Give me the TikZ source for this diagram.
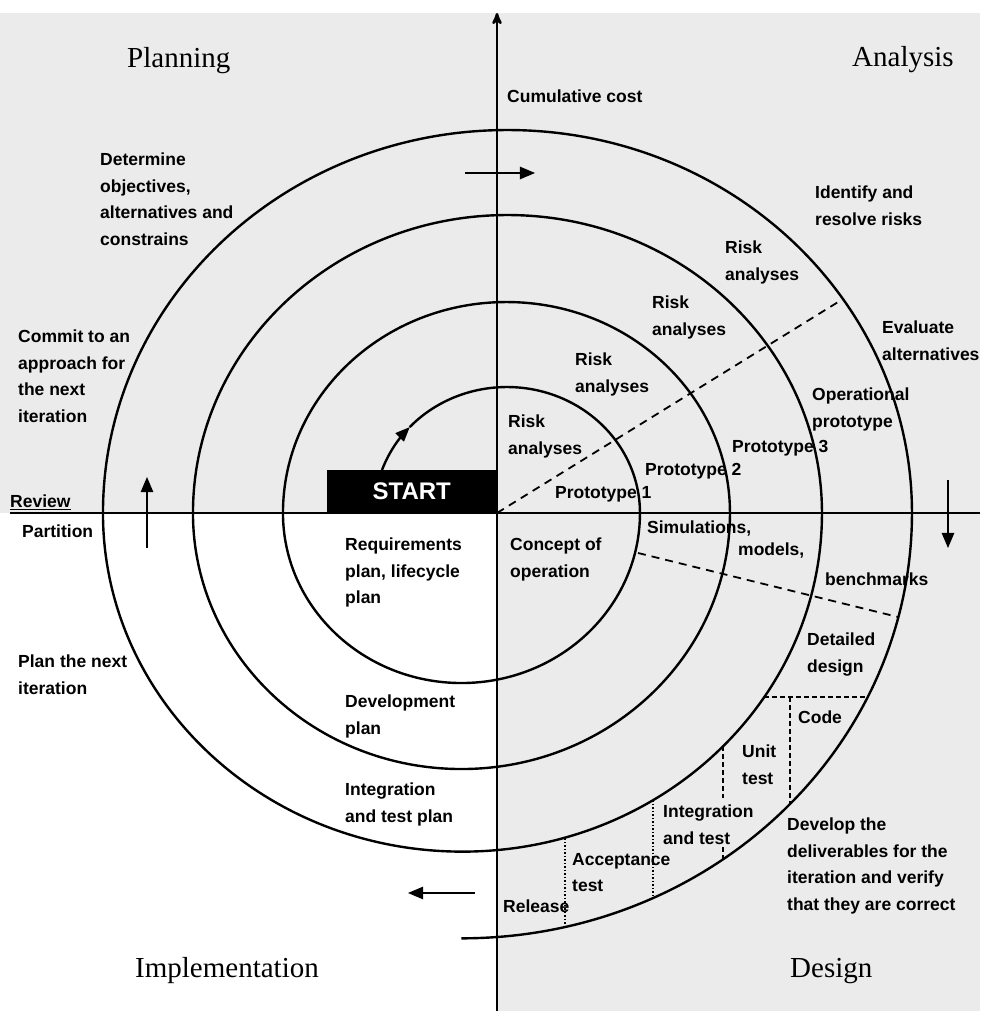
\documentclass[tikz,border=0pt]{standalone}
\usepackage{fontspec}
\setmainfont{Liberation Serif}
\setsansfont{Liberation Sans}
\usepackage{tikz}
\usetikzlibrary{arrows}
\tikzset{
  txt/.style={font=\sffamily\bfseries\fontsize{17.5}{26.5}\selectfont, align=left, anchor=north west, inner sep=0pt},
  phase/.style={font=\fontsize{29}{34}\selectfont, anchor=base west, inner sep=0pt},
  spiral/.style={black, line width=2.4pt},
  guide/.style={black, line width=1.8pt, dash pattern=on 8pt off 6pt},
  boxline/.style={black, line width=1.3pt, dash pattern=on 5pt off 3pt},
  dotline/.style={black, line width=1.3pt, dash pattern=on 1.5pt off 2pt},
  flow/.style={black, line width=2.6pt, ->, >=triangle 45}
}

\begin{document}
\begin{tikzpicture}[x=1pt,y=1pt]
\useasboundingbox (-497,-498) rectangle (483,513);
\fill[black!8] (-497,0) rectangle (483,500);
\fill[black!8] (0,-498) rectangle (483,0);

\draw[black, line width=2.6pt, ->, >=stealth'] (0,-498) -- (0,500);
\draw[black, line width=2.6pt] (-487,0) -- (483,0);

\node[fill=black, text=white, minimum width=170pt, minimum height=43pt, inner sep=0pt, anchor=south east,
  font=\sffamily\bfseries\fontsize{24}{28}\selectfont] (start) at (0,0) {START};

\draw[spiral, ->, >=triangle 45] (-115,43) arc[start angle=160, end angle=137, x radius=133pt, y radius=126pt];
\draw[spiral] (-87.3,85.9) arc[start angle=137, end angle=0, x radius=133pt, y radius=126pt]
  arc[start angle=0, end angle=-180, x radius=178.5pt, y radius=170pt]
  arc[start angle=180, end angle=0, x radius=223.5pt, y radius=211pt]
  arc[start angle=0, end angle=-180, x radius=268.5pt, y radius=256pt]
  arc[start angle=180, end angle=0, x radius=314.5pt, y radius=298pt]
  arc[start angle=0, end angle=-180, x radius=359.5pt, y radius=338.6pt]
  arc[start angle=180, end angle=0, x radius=404.5pt, y radius=383pt]
  arc[start angle=0, end angle=-90, x radius=450.5pt, y radius=425.3pt];

\draw[guide] (0,0) -- (346,214);
\draw[guide] (141,-40) -- (401,-104);
\draw[boxline] (267,-184) -- (371,-184);
\draw[boxline] (293,-184) -- (293,-291);
\draw[boxline] (226,-233) -- (226,-285);
\draw[boxline] (226,-334) -- (226,-346);
\draw[dotline] (156,-287) -- (156,-385);
\draw[dotline] (68,-325) -- (68,-414);

\draw[flow] (-32,340) -- (38,340);
\draw[flow] (451,33) -- (451,-35);
\draw[flow] (-22,-380) -- (-89,-380);
\draw[flow] (-350,-35) -- (-350,36);

\node[phase] (planning) at (-370,445) {Planning};
\node[phase] (analysis) at (355,446) {Analysis};
\node[phase] (implementation) at (-362,-464) {Implementation};
\node[phase] (design) at (293,-464) {Design};

\node[txt] (objectives) at (-397,360) {Determine\\objectives,\\alternatives and\\constrains};
\node[txt] (cost) at (10,423) {Cumulative cost};
\node[txt] (identify) at (318,327) {Identify and\\resolve risks};
\foreach \x/\y [count=\i] in {11/98,78/160,155/217,228/272}
  \node[txt] (risk\i) at (\x,\y) {Risk\\analyses};
\node[txt] (evaluate) at (385,192) {Evaluate\\alternatives};
\node[txt] (operational) at (315,125) {Operational\\prototype};
\node[txt] (proto3) at (235,73) {Prototype 3};
\node[txt] (proto2) at (148,50) {Prototype 2};
\node[txt] (proto1) at (58,27) {Prototype 1};
\node[txt] (simulations) at (150,-8) {Simulations,};
\node[txt] (models) at (241,-30) {models,};
\node[txt] (benchmarks) at (328,-60) {benchmarks};
\node[txt] (concept) at (13,-25) {Concept of\\operation};
\node[txt] (detailed) at (310,-120) {Detailed\\design};
\node[txt] (code) at (301,-198) {Code};
\node[txt] (unit) at (245,-232) {Unit\\test};
\node[txt] (integration) at (166,-292) {Integration\\and test};
\node[txt] (acceptance) at (75,-340) {Acceptance\\test};
\node[txt] (release) at (6,-387) {Release};
\node[txt] (develop) at (290,-305) {Develop the\\deliverables for the\\iteration and verify\\that they are correct};
\node[txt] (commit) at (-479,183) {Commit to an\\approach for\\the next\\iteration};
\node[txt] (review) at (-487,18) {\underline{Review}};
\node[txt] (partition) at (-475,-12) {Partition};
\node[txt] (plannext) at (-479,-142) {Plan the next\\iteration};
\node[txt] (requirements) at (-152,-25) {Requirements\\plan, lifecycle\\plan};
\node[txt] (devplan) at (-152,-182) {Development\\plan};
\node[txt] (itplan) at (-152,-270) {Integration\\and test plan};
\end{tikzpicture}
\end{document}
